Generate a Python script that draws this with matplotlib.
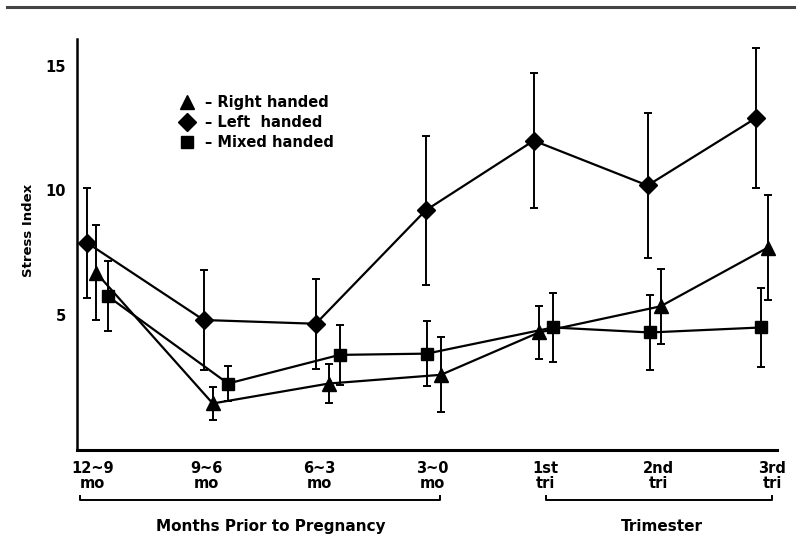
import matplotlib.pyplot as plt
from matplotlib.lines import Line2D
import matplotlib.transforms as mtransforms

plt.rcParams["font.family"] = ["Liberation Sans Narrow", "DejaVu Sans"]
plt.rcParams["font.weight"] = "bold"

periods = ["12~9\nmo", "9~6\nmo", "6~3\nmo", "3~0\nmo", "1st\ntri", "2nd\ntri", "3rd\ntri"]

left_vals = [7.9, 4.8, 4.65, 9.2, 12.0, 10.2, 12.9]
left_err = [2.2, 2.0, 1.8, 3.0, 2.7, 2.9, 2.8]
right_vals = [6.7, 1.45, 2.25, 2.6, 4.3, 5.35, 7.7]
right_err = [1.9, 0.65, 0.8, 1.5, 1.05, 1.5, 2.1]
mixed_vals = [5.75, 2.25, 3.4, 3.45, 4.5, 4.3, 4.5]
mixed_err = [1.4, 0.7, 1.2, 1.3, 1.4, 1.5, 1.6]

# hand-drawn dodge of each symbol around its period
left_dx = [-0.05, -0.02, -0.03, -0.06, -0.105, -0.10, -0.145]
right_dx = [0.03, 0.06, 0.085, 0.075, -0.06, 0.015, -0.04]
mixed_dx = [0.135, 0.195, 0.18, -0.05, 0.065, -0.08, -0.10]

fig = plt.figure(figsize=(7.96, 5.57), dpi=100)
ax = fig.add_axes([0.0967, 0.192, 0.879, 0.738])

series = [
    (right_vals, right_err, right_dx, "^", 10),
    (left_vals, left_err, left_dx, "D", 9),
    (mixed_vals, mixed_err, mixed_dx, "s", 9),
]
for vals, err, dx, mk, ms in series:
    xs = [i + d for i, d in enumerate(dx)]
    ax.errorbar(xs, vals, yerr=err, fmt="-", marker=mk, ms=ms, color="black",
                lw=1.6, elinewidth=1.4, capsize=3, capthick=1.4, mfc="black", mec="black")

ax.set_xlim(-0.139, 6.04)
ax.set_ylim(-0.42, 16.08)
ax.set_yticks([5, 10, 15])
ax.set_xticks(range(len(periods)))
ax.set_xticklabels(periods, fontsize=10.5, fontweight="bold", linespacing=0.95)
ax.tick_params(axis="both", length=0, labelsize=10.5)
ax.tick_params(axis="x", pad=8)
ax.tick_params(axis="y", pad=8)
for lab in ax.get_yticklabels():
    lab.set_fontweight("bold")

for s in ["top", "right"]:
    ax.spines[s].set_visible(False)
ax.spines["left"].set_linewidth(1.8)
ax.spines["bottom"].set_linewidth(2.2)

ax.set_ylabel("Stress Index", fontsize=9.5, fontweight="bold")
ax.yaxis.set_label_coords(-0.06, 0.535)

handles = [Line2D([], [], ls="none", marker=m, ms=s, color="black") for _, _, _, m, s in series]
ax.legend(handles, ["– Right handed", "– Left  handed", "– Mixed handed"],
          loc="upper left", bbox_to_anchor=(0.147, 0.864), frameon=False,
          handlelength=1.0, handletextpad=0.7, labelspacing=0.35, borderpad=0,
          borderaxespad=0, prop={"weight": "bold", "size": 10.5})

# group brackets under the period labels
trans = mtransforms.blended_transform_factory(ax.transData, ax.transAxes)
groups = [(-0.11, 3.066, "Months Prior to Pregnancy", 1.574), (4.0, 6.0, "Trimester", 5.03)]
for x0, x1, name, xc in groups:
    ax.plot([x0, x0, x1, x1], [-0.112, -0.122, -0.122, -0.112], color="black",
            lw=1.4, transform=trans, clip_on=False)
    ax.text(xc, -0.187, name, transform=trans, ha="center", va="center",
            fontsize=11, fontweight="bold")

fig.add_artist(Line2D([0.009, 1.0], [0.987, 0.987], color="#444444", lw=2.2))

fig.savefig("out.png", dpi=100)
